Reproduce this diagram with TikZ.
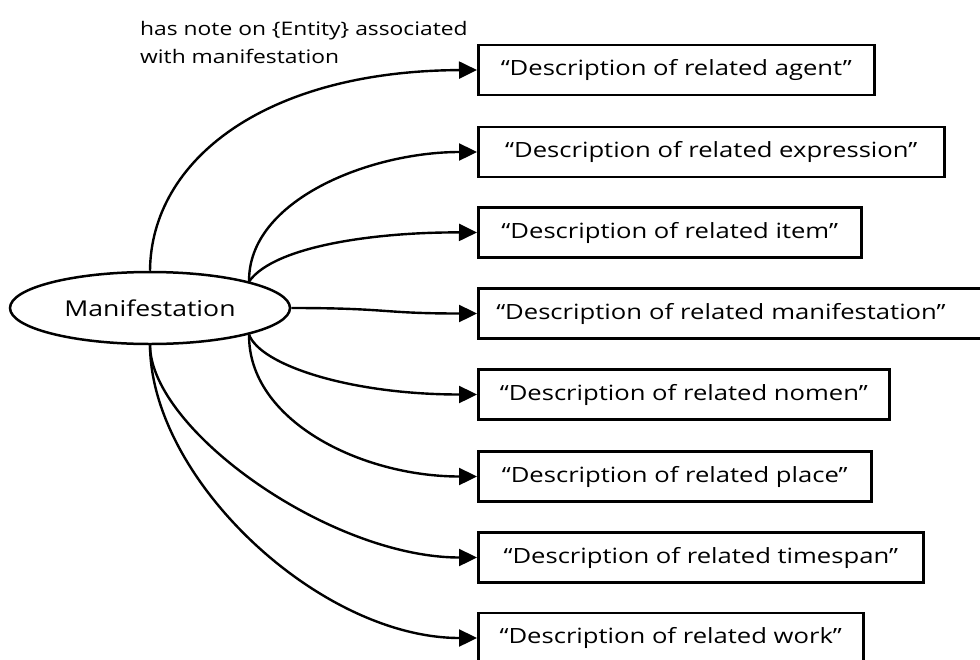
\documentclass[tikz,border=0pt]{standalone}
\usepackage{fontspec}
\setmainfont[FakeStretch=1.22]{Open Sans}
\usetikzlibrary{shapes.geometric,arrows.meta}
\begin{document}
\begin{tikzpicture}[x=1pt,y=-1pt,
  link/.style={line width=2.4pt,-{Triangle[length=18pt,width=17pt]}},
  descbox/.style={draw,line width=2.5pt,anchor=west,minimum height=50pt,
    inner xsep=10pt,inner ysep=0pt,
    font=\fontsize{21}{25}\selectfont},
  entity/.style={ellipse,draw,line width=2.5pt,minimum width=280pt,
    minimum height=72pt,inner sep=0pt,font=\fontsize{21.8}{25}\selectfont},
]
\useasboundingbox (0,0) rectangle (980,659);

% central entity
\node[entity] (m) at (150,308) {Manifestation};

% property label
\node[anchor=base west,align=left,inner sep=0pt,
      font=\fontsize{18.7}{28}\selectfont] (lbl) at (140,63)
  {has note on \{Entity\} associated\\with manifestation};

% description boxes
\node[descbox,minimum width=396pt] (b1) at (477,70)    {“Description of related agent”};
\node[descbox,minimum width=466pt] (b2) at (477,152)   {“Description of related expression”};
\node[descbox,minimum width=383pt] (b3) at (477,232.5) {“Description of related item”};
\node[descbox,inner xsep=18pt,text width=490pt,align=left] (b4) at (477,313.5)
  {“Description of related manifestation”};
\node[descbox,minimum width=411pt] (b5) at (477,394.5) {“Description of related nomen”};
\node[descbox,minimum width=393pt] (b6) at (477,476.5) {“Description of related place”};
\node[descbox,minimum width=445pt] (b7) at (477,557.5) {“Description of related timespan”};
\node[descbox,minimum width=385pt] (b8) at (477,638)   {“Description of related work”};

% connectors
\draw[link] (m.north) .. controls (151,160) and (265,71) .. (b1.west);
\draw[link] (m.15) .. controls (248,200) and (370,152) .. (b2.west);
\draw[link] (m.15) .. controls (275,245) and (380,232) .. (b3.west);
\draw[link] (m.east) .. controls (390,308) and (380,313.5) .. (b4.west);
\draw[link] (m.-15) .. controls (260,365) and (350,394.5) .. (b5.west);
\draw[link] (m.-15) .. controls (248,420) and (360,476.5) .. (b6.west);
\draw[link] (m.south) .. controls (151,430) and (330,557.5) .. (b7.west);
\draw[link] (m.south) .. controls (151,480) and (320,638) .. (b8.west);
\end{tikzpicture}
\end{document}
